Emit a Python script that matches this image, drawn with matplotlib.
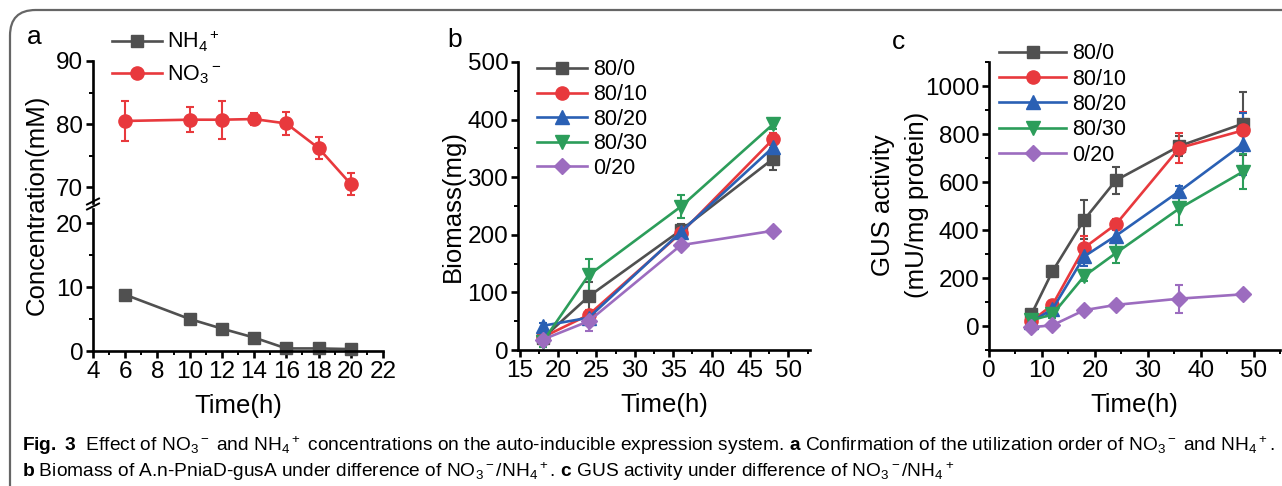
import matplotlib
matplotlib.use("Agg")
import matplotlib.pyplot as plt
from matplotlib import font_manager
from matplotlib.patches import FancyBboxPatch
from matplotlib.lines import Line2D
from matplotlib.ticker import MultipleLocator

# ---------------- data ----------------
# panel a
t_a = [6, 10, 12, 14, 16, 18, 20]
nh4 = [8.8, 5.0, 3.5, 2.1, 0.4, 0.4, 0.3]
nh4_err = [0.2, 0.2, 0.2, 0.2, 0.1, 0.1, 0.1]
no3 = [80.5, 80.7, 80.7, 80.8, 80.1, 76.2, 70.5]
no3_err = [3.2, 2.0, 3.0, 1.0, 1.8, 1.7, 1.7]

# panel b
t_b = [18, 24, 36, 48]
series_labels = ["80/0", "80/10", "80/20", "80/30", "0/20"]
bio = [
    [20, 93, 208, 332],
    [22, 61, 203, 366],
    [42, 56, 205, 352],
    [14, 130, 249, 392],
    [18, 50, 182, 207],
]
bio_err = [
    [4, 25, 10, 19],
    [5, 8, 8, 10],
    [5, 8, 12, 20],
    [8, 28, 20, 8],
    [5, 17, 5, 5],
]

# panel c
t_c = [8, 12, 18, 24, 36, 48]
gus = [
    [48, 228, 443, 607, 750, 843],
    [20, 88, 326, 424, 742, 815],
    [18, 70, 290, 376, 562, 758],
    [24, 48, 208, 304, 490, 643],
    [-5, 3, 66, 88, 114, 132],
]
gus_err = [
    [10, 20, 80, 57, 40, 130],
    [15, 15, 48, 20, 62, 78],
    [10, 15, 40, 25, 20, 130],
    [10, 15, 20, 40, 70, 72],
    [5, 10, 10, 10, 58, 10],
]

colors = ["#505050", "#e8393d", "#2a60b4", "#2c9d5a", "#9c6cbf"]
markers = ["s", "o", "^", "v", "D"]
msizes = [8.5, 9.5, 9.5, 9.5, 8.5]

# ---------------- fonts ----------------
names = {f.name for f in font_manager.fontManager.ttflist}
base = "Liberation Sans" if "Liberation Sans" in names else "DejaVu Sans"
narrow = "Liberation Sans Narrow" if "Liberation Sans Narrow" in names else base
plt.rcParams["font.family"] = [base, "DejaVu Sans"]
plt.rcParams["mathtext.fontset"] = "custom"
plt.rcParams["mathtext.rm"] = base
plt.rcParams["mathtext.it"] = base + ":italic"
plt.rcParams["mathtext.bf"] = narrow + ":bold"
plt.rcParams["mathtext.default"] = "regular"

W, H = 1282, 486
fig = plt.figure(figsize=(W / 100, H / 100), dpi=100)


def rect(x0, y_top, x1, y_bot):
    return [x0 / W, 1 - y_bot / H, (x1 - x0) / W, (y_bot - y_top) / H]


def fx(x):
    return x / W


def fy(y):
    return 1 - y / H


LW = 1.9
TICK_FS = 17.5
LAB_FS = 18.5
LEG_FS = 15.5


def style(ax, bottom=True):
    for s in ["top", "right"]:
        ax.spines[s].set_visible(False)
    for s in ["left", "bottom"]:
        ax.spines[s].set_linewidth(LW)
    ax.tick_params(which="major", direction="out", length=5, width=LW,
                   labelsize=TICK_FS, pad=2)
    ax.tick_params(which="minor", direction="out", length=3, width=1.4)
    if not bottom:
        ax.spines["bottom"].set_visible(False)
        ax.tick_params(axis="x", which="both", bottom=False, labelbottom=False)


EB = dict(lw=LW, capsize=3, elinewidth=1.5, capthick=1.5, clip_on=False)

# ---------------- panel a ----------------
ax_up = fig.add_axes(rect(93, 61, 383, 203))
ax_lo = fig.add_axes(rect(93, 209, 383, 351))
for ax in (ax_up, ax_lo):
    ax.set_xlim(4, 22)
    ax.xaxis.set_major_locator(MultipleLocator(2))
    ax.xaxis.set_minor_locator(MultipleLocator(1))
    ax.patch.set_alpha(0)
style(ax_up, bottom=False)
style(ax_lo)
ax_up.set_ylim(67.5, 90)
ax_up.set_yticks([70, 80, 90])
ax_up.yaxis.set_minor_locator(MultipleLocator(5))
ax_lo.set_ylim(0, 22.2)
ax_lo.set_yticks([0, 10, 20])
ax_lo.yaxis.set_minor_locator(MultipleLocator(5))

ax_lo.errorbar(t_a, nh4, yerr=nh4_err, color=colors[0], marker="s", ms=msizes[0], **EB)
ax_up.errorbar(t_a, no3, yerr=no3_err, color=colors[1], marker="o", ms=msizes[1], **EB)
ax_lo.set_xlabel("Time(h)", fontsize=LAB_FS, labelpad=8)
fig.text(fx(37), fy(205), "Concentration(mM)", fontsize=LAB_FS,
         rotation=90, ha="center", va="center")

# break marks
for yy in (201.5, 206.5):
    fig.add_artist(Line2D([fx(87), fx(99)], [fy(yy + 3), fy(yy - 3)],
                          color="black", lw=1.4))

h1 = Line2D([], [], color=colors[0], marker="s", ms=msizes[0], lw=LW)
h2 = Line2D([], [], color=colors[1], marker="o", ms=msizes[1], lw=LW)
fig.legend([h1, h2], ["NH$_4$$^+$", "NO$_3$$^-$"], loc="upper left",
           bbox_to_anchor=(fx(93), fy(10)), frameon=False, fontsize=LEG_FS,
           handlelength=2.3, handletextpad=0.25, labelspacing=0.4)
fig.text(fx(27), fy(37), "a", fontsize=19, ha="left", va="center")

# ---------------- panel b ----------------
axb = fig.add_axes(rect(518, 62, 810, 350))
style(axb)
axb.set_xlim(14.8, 52.8)
axb.set_ylim(0, 500)
axb.xaxis.set_major_locator(MultipleLocator(5))
axb.xaxis.set_minor_locator(MultipleLocator(2.5))
axb.yaxis.set_major_locator(MultipleLocator(100))
axb.yaxis.set_minor_locator(MultipleLocator(50))
handles = []
for i in range(5):
    axb.errorbar(t_b, bio[i], yerr=bio_err[i], color=colors[i], marker=markers[i],
                 ms=msizes[i], **EB)
    handles.append(Line2D([], [], color=colors[i], marker=markers[i],
                          ms=msizes[i], lw=LW))
axb.set_xlabel("Time(h)", fontsize=LAB_FS, labelpad=8)
axb.set_ylabel("Biomass(mg)", fontsize=LAB_FS, labelpad=2)
fig.legend(handles, series_labels, loc="upper left",
           bbox_to_anchor=(fx(518), fy(40)), frameon=False, fontsize=LEG_FS,
           handlelength=2.3, handletextpad=0.3, labelspacing=0.17)
fig.text(fx(447), fy(40), "b", fontsize=19, ha="left", va="center")

# ---------------- panel c ----------------
axc = fig.add_axes(rect(989, 62, 1280, 350))
style(axc)
axc.set_xlim(0, 55)
axc.set_ylim(-100, 1100)
axc.xaxis.set_major_locator(MultipleLocator(10))
axc.xaxis.set_minor_locator(MultipleLocator(5))
axc.set_yticks([0, 200, 400, 600, 800, 1000])
axc.yaxis.set_minor_locator(MultipleLocator(100))
for i in range(5):
    axc.errorbar(t_c, gus[i], yerr=gus_err[i], color=colors[i], marker=markers[i],
                 ms=msizes[i], **EB)
axc.set_xlabel("Time(h)", fontsize=LAB_FS, labelpad=8)
fig.text(fx(900), fy(205), "GUS activity\n(mU/mg protein)", fontsize=LAB_FS,
         rotation=90, ha="center", va="center", multialignment="center",
         linespacing=1.55)
fig.legend(handles, series_labels, loc="upper left",
           bbox_to_anchor=(fx(980), fy(24)), frameon=False, fontsize=LEG_FS,
           handlelength=3.1, handletextpad=0.3, labelspacing=0.2)
fig.text(fx(892), fy(42), "c", fontsize=19, ha="left", va="center")

# ---------------- frame & caption ----------------
frame = FancyBboxPatch((fx(10), fy(530)), fx(1400), fy(10) - fy(530),
                       boxstyle="round,pad=0,rounding_size=0.02",
                       transform=fig.transFigure, fill=False,
                       edgecolor="#666666", lw=1.6, clip_on=False,
                       mutation_aspect=W / H)
fig.add_artist(frame)

cap1 = (r"$\mathbf{Fig.\ 3}$  Effect of NO$_3$$^-$ and NH$_4$$^+$ concentrations on the "
        r"auto-inducible expression system. $\mathbf{a}$ Confirmation of the utilization "
        r"order of NO$_3$$^-$ and NH$_4$$^+$.")
cap2 = (r"$\mathbf{b}$ Biomass of A.n-PniaD-gusA under difference of NO$_3$$^-$/NH$_4$$^+$. "
        r"$\mathbf{c}$ GUS activity under difference of NO$_3$$^-$/NH$_4$$^+$")
cap_fs = 12.5
t1 = fig.text(fx(22), fy(446), cap1, fontsize=cap_fs, family=[narrow, "DejaVu Sans"],
              ha="left", va="center")
t2 = fig.text(fx(22), fy(472), cap2, fontsize=cap_fs, family=[narrow, "DejaVu Sans"],
              ha="left", va="center")
# fit caption width to the reference line length
renderer = fig.canvas.get_renderer()
w1 = t1.get_window_extent(renderer).width
scale = (1276 - 22) / w1
t1.set_fontsize(cap_fs * scale)
t2.set_fontsize(cap_fs * scale)

fig.savefig("out.png", dpi=100)
